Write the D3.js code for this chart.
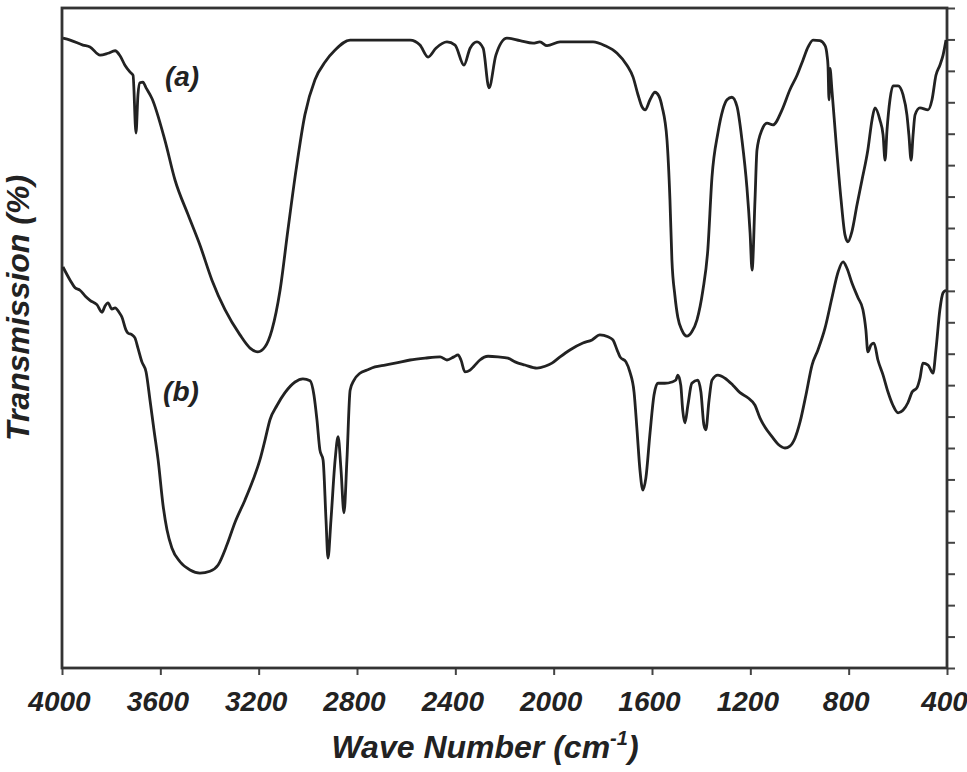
<!DOCTYPE html>
<html>
<head>
<meta charset="utf-8">
<script src="https://cdn.jsdelivr.net/npm/d3@7"></script>
<style>
  body { margin: 0; background: #fff; }
  text { font-family: "Liberation Sans", Arial, sans-serif; font-weight: bold; font-style: italic; fill: #222; }
</style>
</head>
<body>
<div id="chart"></div>
<script>
// spectrum (a)
const waveA = [3996, 3967, 3915, 3886, 3845, 3813, 3784, 3764, 3744, 3723, 3711, 3699, 3691, 3683, 3671, 3658, 3634,
  3581, 3540, 3487, 3439, 3390, 3337, 3276, 3235, 3203, 3174, 3146, 3113, 3081, 3048, 3012, 2971, 2930, 2889, 2828,
  2706, 2584, 2544, 2511, 2479, 2434, 2401, 2365, 2340, 2312, 2287, 2263, 2235, 2190, 2137, 2084, 2056, 2027, 1974,
  1893, 1840, 1791, 1742, 1702, 1677, 1657, 1641, 1628, 1608, 1588, 1572, 1559, 1539, 1527, 1519, 1507, 1495, 1479,
  1458, 1438, 1417, 1393, 1373, 1356, 1332, 1312, 1295, 1275, 1254, 1234, 1214, 1201, 1193, 1181, 1173, 1153, 1132,
  1108, 1071, 1039, 1010, 986, 965, 945, 917, 896, 888, 884, 880, 876, 868, 852, 831, 815, 803, 787, 766, 746, 722,
  705, 693, 673, 660, 652, 644, 632, 620, 599, 579, 563, 555, 546, 538, 530, 510, 477, 461, 445, 429, 416, 404];
const transA = [100.2, 99.9, 99.1, 98.8, 97.5, 97.8, 98.2, 97.4, 95.9, 94.8, 94.3, 85.1, 91.2, 93.1, 93.2, 92.3, 90.6,
  83.9, 77.6, 72.1, 67.3, 61.7, 57.0, 53.0, 50.9, 50.3, 51.1, 53.8, 60.1, 69.7, 79.2, 88.0, 93.6, 96.4, 98.3, 99.9,
  99.9, 99.9, 99.1, 97.2, 98.6, 99.6, 99.1, 95.9, 98.6, 99.6, 98.6, 92.3, 97.5, 100.2, 99.8, 99.4, 99.6, 99.0, 99.6,
  99.6, 99.6, 99.0, 97.8, 95.9, 94.0, 91.2, 89.3, 88.8, 90.4, 91.6, 91.0, 89.3, 84.0, 74.5, 64.9, 59.3, 55.8, 53.8,
  52.8, 53.5, 55.4, 60.1, 66.5, 78.1, 85.1, 88.8, 90.4, 90.8, 89.3, 84.0, 76.5, 69.2, 63.3, 74.5, 82.4, 85.6, 86.7,
  86.4, 88.8, 92.0, 94.3, 96.7, 98.8, 99.9, 99.8, 99.0, 97.5, 95.8, 90.4, 95.4, 91.9, 84.0, 74.5, 68.9, 67.8, 69.4,
  73.7, 77.6, 82.4, 87.2, 89.1, 87.2, 84.8, 80.8, 85.6, 90.4, 92.6, 92.6, 91.2, 88.0, 84.8, 80.8, 84.8, 88.0, 89.1,
  88.8, 90.4, 94.3, 95.9, 97.5, 99.9];

// spectrum (b)
const waveB = [3996, 3967, 3947, 3927, 3906, 3886, 3858, 3837, 3825, 3813, 3797, 3784, 3768, 3756, 3740, 3732, 3715,
  3703, 3691, 3675, 3658, 3642, 3626, 3609, 3589, 3573, 3553, 3520, 3479, 3439, 3398, 3365, 3329, 3296, 3256, 3223,
  3195, 3174, 3154, 3125, 3093, 3052, 3020, 2991, 2975, 2963, 2951, 2938, 2926, 2918, 2906, 2889, 2877, 2865, 2853,
  2841, 2828, 2812, 2788, 2759, 2727, 2686, 2645, 2584, 2523, 2462, 2434, 2406, 2389, 2377, 2361, 2340, 2324, 2300,
  2267, 2226, 2186, 2157, 2117, 2068, 2035, 2007, 1974, 1934, 1881, 1844, 1812, 1779, 1759, 1742, 1730, 1706, 1690,
  1673, 1661, 1649, 1637, 1625, 1608, 1592, 1576, 1548, 1519, 1503, 1495, 1483, 1475, 1466, 1454, 1438, 1414, 1401,
  1389, 1381, 1368, 1356, 1332, 1303, 1271, 1242, 1210, 1181, 1161, 1140, 1112, 1087, 1059, 1039, 1018, 998, 974,
  949, 925, 896, 868, 843, 823, 807, 787, 762, 742, 730, 722, 709, 697, 681, 660, 640, 620, 599, 579, 559, 542, 522,
  510, 498, 477, 457, 445, 429, 416, 404];
const transB = [63.8, 61.7, 60.5, 60.1, 59.2, 58.5, 57.8, 56.6, 57.6, 58.1, 57.1, 57.3, 56.6, 55.8, 53.8, 53.3, 53.0,
  52.5, 50.9, 48.7, 47.1, 42.6, 37.9, 33.1, 25.9, 22.0, 19.1, 16.9, 15.6, 15.1, 15.4, 16.4, 19.6, 23.2, 26.7, 29.9,
  33.1, 36.3, 39.5, 41.8, 43.8, 45.5, 46.0, 45.7, 43.4, 39.5, 34.7, 33.1, 23.5, 17.5, 23.5, 33.1, 36.8, 31.5, 24.7,
  33.1, 44.2, 45.8, 46.9, 47.4, 47.9, 48.2, 48.5, 49.0, 49.3, 49.5, 49.0, 49.5, 49.8, 49.0, 47.1, 47.4, 48.0, 49.0,
  49.6, 49.5, 49.3, 48.7, 48.2, 47.7, 48.0, 48.5, 49.5, 50.6, 51.7, 52.2, 53.0, 52.7, 52.2, 50.6, 49.5, 48.7, 47.1,
  43.9, 37.9, 31.5, 28.3, 30.2, 37.4, 43.4, 45.3, 45.3, 45.5, 45.8, 46.6, 45.0, 41.0, 39.0, 41.8, 45.3, 45.8, 43.9,
  38.7, 37.9, 42.6, 45.8, 46.6, 46.1, 45.0, 43.8, 43.0, 41.8, 39.8, 38.3, 36.8, 35.6, 35.0, 35.3, 36.6, 39.1, 43.4,
  48.2, 50.6, 54.1, 58.9, 63.0, 64.6, 63.6, 61.3, 58.9, 57.0, 53.8, 50.3, 51.4, 51.7, 49.0, 46.6, 43.9, 41.8, 40.6,
  41.0, 42.2, 43.9, 44.6, 46.1, 48.5, 48.2, 46.9, 50.6, 57.0, 59.7, 60.1];

const xTicks = [4000, 3600, 3200, 2800, 2400, 2000, 1600, 1200, 800, 400];
const yTicks = d3.range(0, 106, 5);
const seriesLabels = ["(a)", "(b)"];

const svgWidth = 967;
const svgHeight = 772;
const margin = { top: 8, right: 20, bottom: 104, left: 62 };
const width = 947 - margin.left;
const height = 668 - margin.top;

const svg = d3.select("#chart")
  .append("svg")
  .attr("width", svgWidth)
  .attr("height", svgHeight);

const chartGroup = svg.append("g")
  .attr("transform", `translate(${margin.left}, ${margin.top})`);

const x = d3.scaleLinear().domain([4000, 400]).range([0, width]);
const y = d3.scaleLinear().domain([0, 105]).range([height, 0]);

// bottom axis
const xAxis = chartGroup.append("g")
  .attr("transform", `translate(0, ${height})`)
  .call(d3.axisBottom(x).tickValues(xTicks).tickSize(7).tickPadding(16).tickFormat(d3.format("d")));
xAxis.select(".domain").remove();
xAxis.selectAll("line").attr("stroke", "#444").attr("stroke-width", 2);
xAxis.selectAll("text")
  .attr("font-size", 28)
  .attr("dx", -3)
  .style("fill", "#222");

// right axis, ticks only
const yAxis = chartGroup.append("g")
  .attr("transform", `translate(${width}, 0)`)
  .call(d3.axisRight(y).tickValues(yTicks).tickSize(8).tickFormat(""));
yAxis.select(".domain").remove();
yAxis.selectAll("line").attr("stroke", "#444").attr("stroke-width", 2);

// frame
chartGroup.append("rect")
  .attr("width", width)
  .attr("height", height)
  .attr("fill", "none")
  .attr("stroke", "#333")
  .attr("stroke-width", 2.8);

const line = d3.line()
  .x(d => x(d[0]))
  .y(d => y(d[1]))
  .curve(d3.curveMonotoneX);

const series = [d3.zip(waveA, transA), d3.zip(waveB, transB)];

chartGroup.selectAll(".spectrum")
  .data(series)
  .enter()
  .append("path")
  .attr("class", "spectrum")
  .attr("d", line)
  .attr("fill", "none")
  .attr("stroke", "#222")
  .attr("stroke-width", 2.8)
  .attr("stroke-linejoin", "round");

// curve labels
chartGroup.append("text")
  .attr("x", 182 - margin.left)
  .attr("y", 86 - margin.top)
  .attr("text-anchor", "middle")
  .attr("font-size", 28)
  .text(seriesLabels[0]);

chartGroup.append("text")
  .attr("x", 181 - margin.left)
  .attr("y", 401 - margin.top)
  .attr("text-anchor", "middle")
  .attr("font-size", 28)
  .text(seriesLabels[1]);

// axis titles
const xTitle = svg.append("text")
  .attr("x", 485)
  .attr("y", 758)
  .attr("text-anchor", "middle")
  .attr("font-size", 32);
xTitle.append("tspan").text("Wave Number (cm");
xTitle.append("tspan").attr("font-size", 20).attr("dy", -13).text("-1");
xTitle.append("tspan").attr("dy", 13).text(")");

svg.append("text")
  .attr("transform", "translate(29, 308) rotate(-90)")
  .attr("text-anchor", "middle")
  .attr("font-size", 32)
  .text("Transmission (%)");
</script>
</body>
</html>
